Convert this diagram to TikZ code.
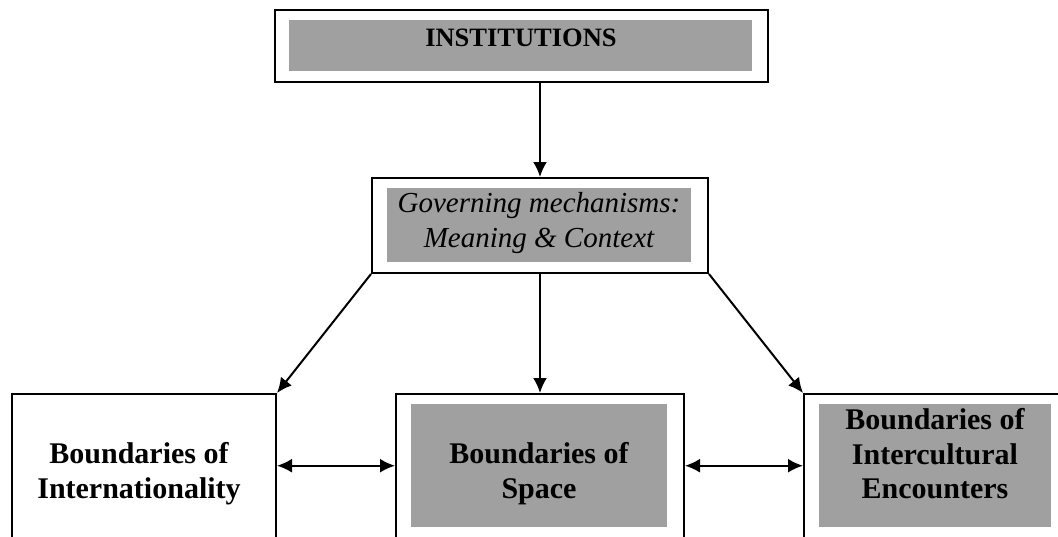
\documentclass[tikz,border=0pt]{standalone}
\usepackage{fontspec}
\setmainfont{Liberation Serif}
\usetikzlibrary{arrows.meta}
\definecolor{boxgray}{RGB}{160,160,160}
\begin{document}
\begin{tikzpicture}[x=1pt,y=-1pt,
  outerbox/.style={draw=black,line width=2pt,fill=white,anchor=north west,inner sep=0pt},
  innerbox/.style={fill=boxgray,draw=none,anchor=north west,inner sep=0pt},
  boldtext/.style={align=center,font=\fontsize{30}{34.5}\selectfont\bfseries,inner sep=0pt},
  conn/.style={line width=2pt,-{Latex[length=15pt,width=14pt]}},
  dconn/.style={line width=2pt,{Latex[length=15pt,width=14pt]}-{Latex[length=15pt,width=14pt]}}]
\useasboundingbox (0,0) rectangle (1058,536);
\clip (0,0) rectangle (1058,536);
% top box
\node[outerbox,minimum width=493,minimum height=72] (topO) at (274,9) {};
\node[innerbox,minimum width=463,minimum height=51] (topI) at (289,20) {};
\node[font=\fontsize{26.5}{35}\selectfont\bfseries,inner sep=0pt] (topT) at (521,38) {INSTITUTIONS};
% middle box
\node[outerbox,minimum width=336,minimum height=95] (midO) at (371,177) {};
\node[innerbox,minimum width=304,minimum height=74] (midI) at (387,188) {};
\node[align=center,font=\fontsize{29}{35}\selectfont\itshape,inner sep=0pt] (midT) at (539,223) {Governing mechanisms:\\Meaning \& Context};
% bottom boxes
\node[outerbox,minimum width=264,minimum height=200] (leftO) at (11,393) {};
\node[boldtext] (leftT) at (139,473.5) {Boundaries of\\Internationality};
\node[outerbox,minimum width=288,minimum height=200] (cenO) at (395,393) {};
\node[innerbox,minimum width=256,minimum height=123] (cenI) at (411,404) {};
\node[boldtext] (cenT) at (539,473.5) {Boundaries of\\Space};
\node[outerbox,minimum width=290,minimum height=200] (rightO) at (803,393) {};
\node[innerbox,minimum width=232,minimum height=123] (rightI) at (819,404) {};
\node[boldtext] (rightT) at (935,454) {Boundaries of\\Intercultural\\Encounters};
% connectors
\draw[conn] (topO.south -| midO.north) -- (midO.north);
\draw[conn] (midO.south west) -- (leftO.north east);
\draw[conn] (midO.south) -- (cenO.north);
\draw[conn] (midO.south east) -- (rightO.north west);
\draw[dconn] (leftO.east |- cenI.center) -- (cenO.west |- cenI.center);
\draw[dconn] (cenO.east |- cenI.center) -- (rightO.west |- cenI.center);
\end{tikzpicture}
\end{document}
